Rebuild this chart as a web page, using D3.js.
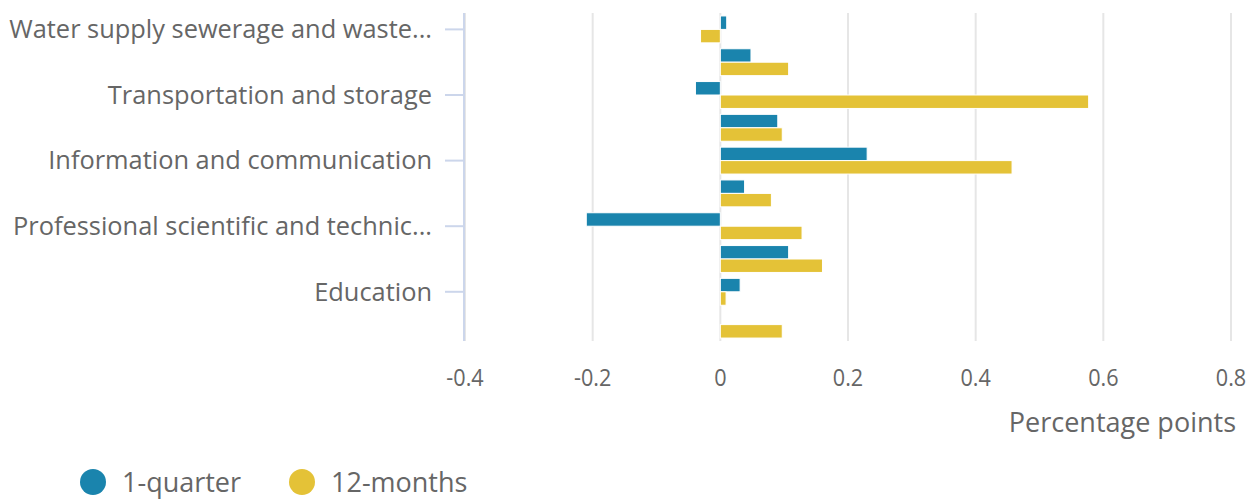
<!DOCTYPE html>
<html>
<head>
<meta charset="utf-8">
<script src="https://cdn.jsdelivr.net/npm/d3@7"></script>
<style>
  html, body { margin: 0; padding: 0; background: white; }
  svg { display: block; font-family: 'Open Sans', sans-serif; }
</style>
</head>
<body>
<div id="container"></div>
<script>
let categories = [
    'Water supply sewerage and waste management',
    'Wholesale and retail trade',
    'Transportation and storage',
    'Accommodation and food service activities',
    'Information and communication',
    'Financial and insurance activities',
    'Professional scientific and technical activities',
    'Administrative and support service activities',
    'Education',
    'Human health and social work activities'
];
// only every other category gets a label on the axis
let shownLabels = [
    'Water supply sewerage and waste...',
    null,
    'Transportation and storage',
    null,
    'Information and communication',
    null,
    'Professional scientific and technic...',
    null,
    'Education',
    null
];
let quarter = [0.01, 0.048, -0.039, 0.09, 0.23, 0.038, -0.21, 0.107, 0.031, 0];
let twelveMonths = [-0.031, 0.107, 0.577, 0.097, 0.457, 0.08, 0.128, 0.16, 0.009, 0.097];
let seriesNames = ['1-quarter', '12-months'];
let seriesColors = ['#1a84ad', '#e4c237'];
let xTicks = [-0.4, -0.2, 0, 0.2, 0.4, 0.6, 0.8];

let w = 1260,
    h = 500;

let viz = d3.select('#container')
    .append('svg')
      .attr('width', w)
      .attr('height', h);

let plotLeft = 465, plotRight = 1231, plotTop = 13, plotBottom = 341;

let x = d3.scaleLinear().domain([-0.4, 0.8]).range([plotLeft, plotRight]);
let y = d3.scaleBand().domain(categories).range([plotTop, plotBottom])
    .paddingInner(0.18).paddingOuter(0.09);
let ySub = d3.scaleBand().domain(seriesNames).range([0, y.bandwidth()]);

let textColor = '#666666';

// grid
viz.append('g').selectAll('line').data(xTicks).enter()
    .append('line')
      .attr('x1', d => x(d)).attr('x2', d => x(d))
      .attr('y1', plotTop).attr('y2', plotBottom)
      .attr('stroke', '#e6e6e6')
      .attr('stroke-width', 2);

// bars
let rows = categories.map((c, i) => ({cat: c, vals: [quarter[i], twelveMonths[i]]}));
let groups = viz.append('g').selectAll('g').data(rows).enter()
    .append('g')
      .attr('transform', d => 'translate(0,' + y(d.cat) + ')');

groups.selectAll('rect').data(d => d.vals.map((v, j) => ({s: seriesNames[j], v: v, c: seriesColors[j]})))
    .enter()
    .append('rect')
      .attr('x', d => x(Math.min(0, d.v)))
      .attr('width', d => Math.abs(x(d.v) - x(0)))
      .attr('y', d => ySub(d.s))
      .attr('height', ySub.bandwidth())
      .attr('fill', d => d.c)
      .attr('stroke', 'white')
      .attr('stroke-width', d => d.v === 0 ? 0 : 1);

// y axis line + ticks
viz.append('line')
    .attr('x1', plotLeft - 1).attr('x2', plotLeft - 1)
    .attr('y1', plotTop).attr('y2', plotBottom)
    .attr('stroke', '#ccd6eb')
    .attr('stroke-width', 2);

let labelled = categories.filter((c, i) => shownLabels[i]);
viz.append('g').selectAll('line').data(labelled).enter()
    .append('line')
      .attr('x1', plotLeft - 20).attr('x2', plotLeft - 1)
      .attr('y1', d => y(d) + y.bandwidth() / 2)
      .attr('y2', d => y(d) + y.bandwidth() / 2)
      .attr('stroke', '#ccd6eb')
      .attr('stroke-width', 2);

viz.append('g').selectAll('text').data(labelled).enter()
    .append('text')
      .attr('x', 432)
      .attr('y', d => y(d) + y.bandwidth() / 2)
      .attr('dy', '0.35em')
      .attr('text-anchor', 'end')
      .attr('font-size', 25.4)
      .attr('fill', textColor)
      .text(d => shownLabels[categories.indexOf(d)]);

// x axis labels (slightly narrow in the original)
viz.append('g').selectAll('text').data(xTicks).enter()
    .append('text')
      .attr('transform', d => 'translate(' + x(d) + ',386) scale(0.9,1)')
      .attr('text-anchor', 'middle')
      .attr('font-size', 24)
      .attr('fill', textColor)
      .text(d => String(d));

viz.append('text')
    .attr('x', 1236)
    .attr('y', 432)
    .attr('text-anchor', 'end')
    .attr('font-size', 27)
    .attr('fill', textColor)
    .text('Percentage points');

// legend
let legend = viz.append('g').selectAll('g').data(seriesNames).enter()
    .append('g')
      .attr('transform', (d, i) => 'translate(' + (93 + i * 209) + ',482)');
legend.append('circle')
    .attr('r', 13)
    .attr('fill', (d, i) => seriesColors[i]);
legend.append('text')
    .attr('x', 29)
    .attr('y', 10)
    .attr('font-size', 27)
    .attr('fill', textColor)
    .text(d => d);
</script>
</body>
</html>
